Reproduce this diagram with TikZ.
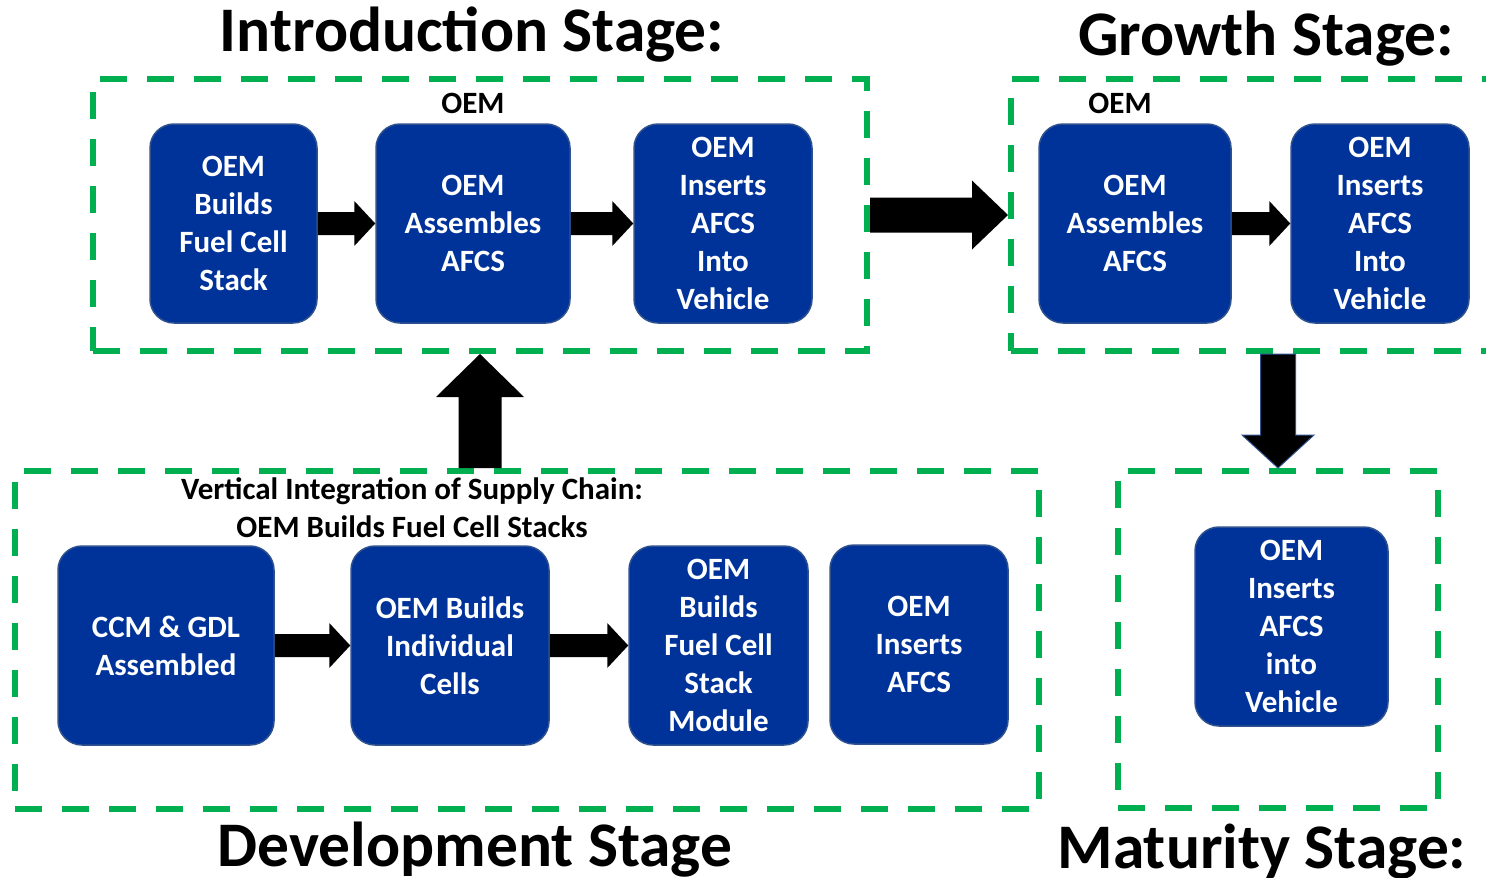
\documentclass[tikz,border=0pt]{standalone}
\usepackage{fontspec}
\setmainfont{Carlito}
\usetikzlibrary{calc}
\definecolor{boxblue}{RGB}{0,51,153}
\definecolor{edgeblue}{RGB}{47,82,143}
\definecolor{dashgreen}{RGB}{0,176,80}
% horizontal block arrow: [style]{from}{tip}{shaft half}{head half}{head length}
\newcommand\hblockarrow[6][]{%
  \fill[#1] ($(#2)+(0,#4)$) -- ($(#3)+(-#6,#4)$) -- ($(#3)+(-#6,#5)$) -- (#3)
    -- ($(#3)+(-#6,-#5)$) -- ($(#3)+(-#6,-#4)$) -- ($(#2)+(0,-#4)$) -- cycle;}
% vertical block arrow: [style]{from}{tip}{shaft half}{head half}{signed head length}
\newcommand\vblockarrow[6][]{%
  \fill[#1] ($(#2)+(#4,0)$) -- ($(#3)+(#4,#6)$) -- ($(#3)+(#5,#6)$) -- (#3)
    -- ($(#3)+(-#5,#6)$) -- ($(#3)+(-#4,#6)$) -- ($(#2)+(-#4,0)$) -- cycle;}
\begin{document}
\begin{tikzpicture}[x=1pt,y=-1pt,
  stepbox/.style={draw=edgeblue, line width=1.5pt, fill=boxblue, rounded corners=24pt,
    text=white, font=\fontsize{31}{38}\selectfont\bfseries, align=center,
    inner sep=0pt, minimum height=199pt},
  stagebox/.style={draw=dashgreen, line width=6pt, dash pattern=on 27pt off 20pt,
    inner sep=0pt},
  stagetitle/.style={font=\fontsize{63.5}{70}\selectfont\bfseries, anchor=base},
  smalltext/.style={font=\fontsize{31}{38}\selectfont\bfseries, anchor=base}]
\useasboundingbox (0,0) rectangle (1486,878);

% stage frames
\node[stagebox, minimum width=774pt, minimum height=272pt] (intro) at (480,215) {};
\node[stagebox, minimum width=489pt, minimum height=272pt] (growth) at (1255.5,215) {};
\node[stagebox, minimum width=1024pt, minimum height=338pt] (dev) at (527,640) {};
\node[stagebox, minimum width=320pt, minimum height=337pt] (mature) at (1278,639.5) {};

% titles
\node[stagetitle] (tIntro) at (472,51) {Introduction Stage:};
\node[stagetitle] (tGrowth) at (1266,55) {Growth Stage:};
\node[stagetitle] (tDev) at (475,866) {Development Stage};
\node[stagetitle] (tMat) at (1262,868) {Maturity Stage:};

% small labels
\node[smalltext] (oem1) at (473,113) {OEM};
\node[smalltext] (oem2) at (1120,113) {OEM};
\node[smalltext] (vi1) at (412,499) {Vertical Integration of Supply Chain:};
\node[smalltext] (vi2) at (412,537) {OEM Builds Fuel Cell Stacks};

% introduction stage boxes
\node[stepbox, minimum width=167pt] (B1) at (233.5,223.5) {OEM\\Builds\\Fuel Cell\\Stack};
\node[stepbox, minimum width=194pt] (B2) at (473,223.5) {OEM\\Assembles\\AFCS};
\node[stepbox, minimum width=178pt] (B3) at (723,223.5) {OEM\\Inserts\\AFCS\\Into\\Vehicle};

% growth stage boxes
\node[stepbox, minimum width=192pt] (G1) at (1135,223.5) {OEM\\Assembles\\AFCS};
\node[stepbox, minimum width=178pt] (G2) at (1380,223.5) {OEM\\Inserts\\AFCS\\Into\\Vehicle};

% development stage boxes
\node[stepbox, minimum width=216pt] (D1) at (166,645.5) {CCM \& GDL\\Assembled};
\node[stepbox, minimum width=198pt] (D2) at (450,645.5) {OEM Builds\\Individual\\Cells};
\node[stepbox, minimum width=179pt] (D3) at (718.5,645.5) {OEM\\Builds\\Fuel Cell\\Stack\\Module};
\node[stepbox, minimum width=178pt] (D4) at (919,644.5) {OEM\\Inserts\\AFCS};

% maturity stage box
\node[stepbox, minimum width=193pt] (M1) at (1291.5,626.5) {OEM\\Inserts\\AFCS\\into\\Vehicle};

% arrows
\hblockarrow{B1.east}{B2.west}{11.5}{22.5}{21}
\hblockarrow{B2.east}{B3.west}{11.5}{22.5}{21}
\hblockarrow{G1.east}{G2.west}{11.5}{22.5}{21}
\hblockarrow{D1.east}{D2.west}{11.5}{22.5}{21}
\hblockarrow{D2.east}{D3.west}{11.5}{22.5}{21}
\hblockarrow{intro.east}{growth.west}{17.5}{34.5}{36}
\vblockarrow{dev.north -| intro.south}{intro.south}{21.5}{44}{43}
\vblockarrow[draw=edgeblue, line width=1pt]{growth.south -| mature.north}{mature.north}{17.5}{36}{-33}
\end{tikzpicture}
\end{document}
